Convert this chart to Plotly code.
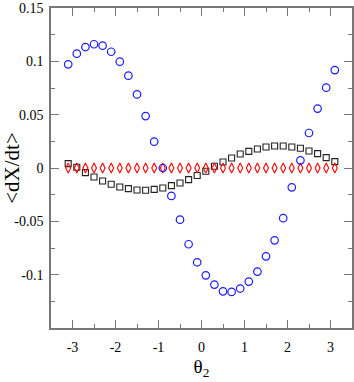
import plotly.graph_objects as go

theta = [-3.1, -2.9, -2.7, -2.5, -2.3, -2.1, -1.9, -1.7, -1.5, -1.3, -1.1, -0.9,
         -0.7, -0.5, -0.3, -0.1, 0.1, 0.3, 0.5, 0.7, 0.9, 1.1, 1.3, 1.5,
         1.7, 1.9, 2.1, 2.3, 2.5, 2.7, 2.9, 3.1]

blue_circles = [0.0972, 0.1072, 0.1134, 0.1160, 0.1147, 0.1090, 0.0997, 0.0866,
                0.0690, 0.0487, 0.0247, 0.0000, -0.0262, -0.0484, -0.0715, -0.0884,
                -0.1006, -0.1093, -0.1156, -0.1162, -0.1130, -0.1065, -0.0971, -0.0828,
                -0.0678, -0.0470, -0.0181, 0.0072, 0.0328, 0.0557, 0.0753, 0.0918]

black_squares = [0.0041, 0.0007, -0.0043, -0.0084, -0.0122, -0.0153, -0.0178, -0.0193,
                 -0.0206, -0.0209, -0.0200, -0.0187, -0.0165, -0.0140, -0.0109, -0.0071,
                 -0.0031, 0.0016, 0.0056, 0.0094, 0.0131, 0.0156, 0.0178, 0.0197,
                 0.0206, 0.0206, 0.0197, 0.0185, 0.0159, 0.0135, 0.0097, 0.0060]

red_diamonds = [0.0] * 32

x_ticks = [-3, -2, -1, 0, 1, 2, 3]
x_tick_labels = ["-3", "-2", "-1", "0", "1", "2", "3"]
y_ticks = [-0.1, -0.05, 0, 0.05, 0.1, 0.15]
y_tick_labels = ["-0.1", "-0.05", "0", "0.05", "0.1", "0.15"]

axis_color = "#777777"
serif = "Liberation Serif"

fig = go.Figure()
fig.add_trace(go.Scatter(x=theta, y=black_squares, mode="markers",
                         marker=dict(symbol="square-open", size=6, color="#222222",
                                     line=dict(width=1.1, color="#222222"))))
fig.add_trace(go.Scatter(x=theta, y=red_diamonds, mode="markers",
                         marker=dict(symbol="diamond-tall-open", size=7, color="#ff0000",
                                     line=dict(width=1.1, color="#ff0000"))))
fig.add_trace(go.Scatter(x=theta, y=blue_circles, mode="markers",
                         marker=dict(symbol="circle-open", size=7.5, color="#1a1aff",
                                     line=dict(width=1.2, color="#1a1aff"))))

fig.update_layout(
    width=354, height=382,
    margin=dict(l=51, r=2, t=8, b=54),
    paper_bgcolor="white", plot_bgcolor="white",
    showlegend=False,
    font=dict(family=serif, color="black"),
)
fig.update_xaxes(
    range=[-3.5, 3.5], showgrid=False, zeroline=False, automargin=False,
    showline=True, linecolor=axis_color, linewidth=1.5, mirror="allticks",
    ticks="inside", ticklen=8, tickcolor=axis_color, tickwidth=1,
    tickvals=x_ticks, ticktext=x_tick_labels,
    tickfont=dict(family=serif, size=14, color="black"),
    ticklabelstandoff=5,
    minor=dict(ticks="inside", ticklen=4, dtick=0.5, tick0=0, tickcolor=axis_color, showgrid=False),
    title=dict(text="θ<sub>2</sub>", font=dict(family=serif, size=19, color="black"), standoff=6),
)
fig.update_yaxes(
    range=[-0.15, 0.15], showgrid=False, zeroline=False, automargin=False,
    showline=True, linecolor=axis_color, linewidth=1.5, mirror="allticks",
    ticks="inside", ticklen=8, tickcolor=axis_color, tickwidth=1,
    tickvals=y_ticks, ticktext=y_tick_labels,
    tickfont=dict(family=serif, size=14, color="black"),
    ticklabelstandoff=3,
    minor=dict(ticks="inside", ticklen=4, dtick=0.025, tick0=0, tickcolor=axis_color, showgrid=False),
    title=dict(text="<dX/dt>", font=dict(family=serif, size=21, color="black"), standoff=5),
)

fig.write_html("out.html", config={"displayModeBar": False},
               post_script="document.body.style.margin='0';document.body.style.overflow='hidden';")
